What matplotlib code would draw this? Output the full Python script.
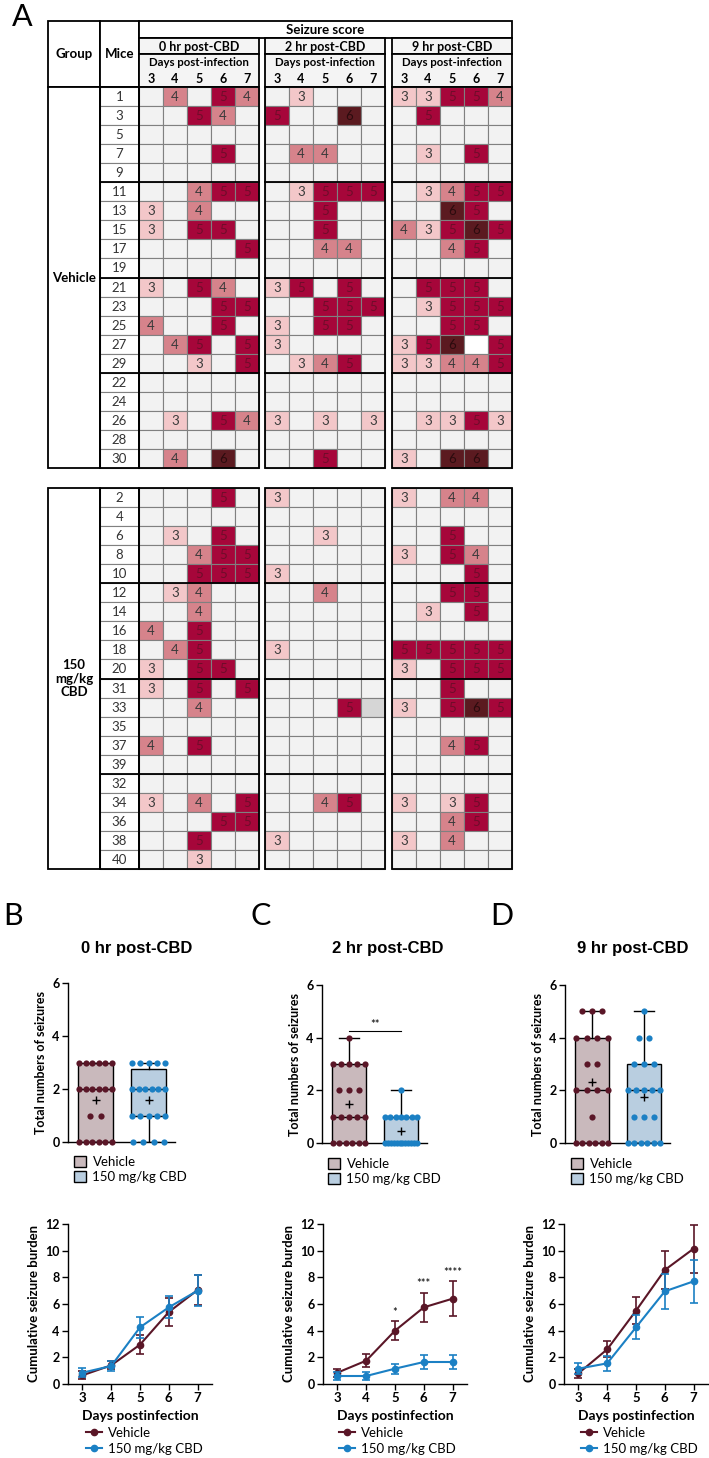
import numpy as np
import matplotlib
matplotlib.use('Agg')
import matplotlib.pyplot as plt
from matplotlib.patches import Rectangle, Patch
from matplotlib.lines import Line2D

plt.rcParams['font.family'] = ['Lato', 'DejaVu Sans']

# ---------------- data ----------------
days = [3, 4, 5, 6, 7]
veh_mice = [1, 3, 5, 7, 9, 11, 13, 15, 17, 19, 21, 23, 25, 27, 29, 22, 24, 26, 28, 30]
cbd_mice = [2, 4, 6, 8, 10, 12, 14, 16, 18, 20, 31, 33, 35, 37, 39, 32, 34, 36, 38, 40]
time_labels = ['0 hr post-CBD', '2 hr post-CBD', '9 hr post-CBD']

# seizure scores per mouse (days 3..7); 0 = none, -1 = not recorded, -2 = blank
veh_0hr = [[0,4,0,5,4],[0,0,5,4,0],[0,0,0,0,0],[0,0,0,5,0],[0,0,0,0,0],
           [0,0,4,5,5],[3,0,4,0,0],[3,0,5,5,0],[0,0,0,0,5],[0,0,0,0,0],
           [3,0,5,4,0],[0,0,0,5,5],[4,0,0,5,0],[0,4,5,0,5],[0,0,3,0,5],
           [0,0,0,0,0],[0,0,0,0,0],[0,3,0,5,4],[0,0,0,0,0],[0,4,0,6,0]]
veh_2hr = [[0,3,0,0,0],[5,0,0,6,0],[0,0,0,0,0],[0,4,4,0,0],[0,0,0,0,0],
           [0,3,5,5,5],[0,0,5,0,0],[0,0,5,0,0],[0,0,4,4,0],[0,0,0,0,0],
           [3,5,0,5,0],[0,0,5,5,5],[3,0,5,5,0],[3,0,0,0,0],[0,3,4,5,0],
           [0,0,0,0,0],[0,0,0,0,0],[3,0,3,0,3],[0,0,0,0,0],[0,0,5,0,0]]
veh_9hr = [[3,3,5,5,4],[0,5,0,0,0],[0,0,0,0,0],[0,3,0,5,0],[0,0,0,0,0],
           [0,3,4,5,5],[0,0,6,5,0],[4,3,5,6,5],[0,0,4,5,0],[0,0,0,0,0],
           [0,5,5,5,0],[0,3,5,5,5],[0,0,5,5,0],[3,5,6,-2,5],[3,3,4,4,5],
           [0,0,0,0,0],[0,0,0,0,0],[0,3,3,5,3],[0,0,0,0,0],[3,0,6,6,0]]
cbd_0hr = [[0,0,0,5,0],[0,0,0,0,0],[0,3,0,5,0],[0,0,4,5,5],[0,0,5,5,5],
           [0,3,4,0,0],[0,0,4,0,0],[4,0,5,0,0],[0,4,5,0,0],[3,0,5,5,0],
           [3,0,5,0,5],[0,0,4,0,0],[0,0,0,0,0],[4,0,5,0,0],[0,0,0,0,0],
           [0,0,0,0,0],[3,0,4,0,5],[0,0,0,5,5],[0,0,5,0,0],[0,0,3,0,0]]
cbd_2hr = [[3,0,0,0,0],[0,0,0,0,0],[0,0,3,0,0],[0,0,0,0,0],[3,0,0,0,0],
           [0,0,4,0,0],[0,0,0,0,0],[0,0,0,0,0],[3,0,0,0,0],[0,0,0,0,0],
           [0,0,0,0,0],[0,0,0,5,-1],[0,0,0,0,0],[0,0,0,0,0],[0,0,0,0,0],
           [0,0,0,0,0],[0,0,4,5,0],[0,0,0,0,0],[3,0,0,0,0],[0,0,0,0,0]]
cbd_9hr = [[3,0,4,4,0],[0,0,0,0,0],[0,0,5,0,0],[3,0,5,4,0],[0,0,0,5,0],
           [0,0,5,5,0],[0,3,0,5,0],[0,0,0,0,0],[5,5,5,5,5],[3,0,5,5,5],
           [0,0,5,0,0],[3,0,5,6,5],[0,0,0,0,0],[0,0,4,5,0],[0,0,0,0,0],
           [0,0,0,0,0],[3,0,3,5,0],[0,0,4,5,0],[3,0,4,0,0],[0,0,0,0,0]]

# total numbers of seizures per mouse (box plots)
tot_veh_0 = [3,2,0,1,0,3,2,3,1,0,3,2,2,3,2,0,0,3,0,2]
tot_cbd_0 = [1,0,2,3,3,2,1,2,2,3,3,1,0,2,0,0,3,2,1,1]
tot_veh_2 = [1,2,0,2,0,4,1,1,2,0,3,3,3,1,3,0,0,3,0,1]
tot_cbd_2 = [1,0,1,0,1,1,0,0,1,0,0,1,0,0,0,0,2,0,1,0]
tot_veh_9 = [5,1,0,2,0,4,2,5,2,0,3,4,2,4,5,0,0,4,0,3]
tot_cbd_9 = [3,0,1,3,1,2,2,0,5,4,1,4,0,2,0,0,3,2,2,0]

# cumulative seizure burden, mean and SEM
cum_veh_0 = [0.65, 1.40, 2.95, 5.40, 7.05]
sem_veh_0 = [0.30, 0.30, 0.70, 1.05, 1.15]
cum_cbd_0 = [0.85, 1.35, 4.25, 5.75, 7.00]
sem_cbd_0 = [0.35, 0.40, 0.78, 0.82, 1.15]
cum_veh_2 = [0.85, 1.75, 4.00, 5.75, 6.40]
sem_veh_2 = [0.30, 0.50, 0.70, 1.10, 1.30]
cum_cbd_2 = [0.60, 0.60, 1.15, 1.65, 1.65]
sem_cbd_2 = [0.30, 0.28, 0.38, 0.55, 0.55]
cum_veh_9 = [0.80, 2.60, 5.50, 8.55, 10.15]
sem_veh_9 = [0.35, 0.60, 1.00, 1.45, 1.80]
cum_cbd_9 = [1.15, 1.55, 4.25, 6.95, 7.70]
sem_cbd_9 = [0.40, 0.55, 0.90, 1.30, 1.60]
stars_2hr = {5: '*', 6: '***', 7: '****'}

# ---------------- figure ----------------
W, H = 709, 1458
fig = plt.figure(figsize=(W / 100, H / 100), dpi=100)
ov = fig.add_axes([0, 0, 1, 1])
ov.set_xlim(0, W)
ov.set_ylim(H, 0)
ov.axis('off')


def fax(left, top, right, bottom):
    return fig.add_axes([left / W, 1 - bottom / H, (right - left) / W, (bottom - top) / H])


# ---------------- table (panel A) ----------------
cell_colors = {0: '#f2f2f2', 3: '#f3c7c9', 4: '#d6838b', 5: '#a6063a', 6: '#5b1a20',
               -1: '#d6d6d6', -2: '#ffffff'}
text_colors = {3: '#3a3a3a', 4: '#3a3a3a', 5: '#6e0d2a', 6: '#2b0b0e'}
GRID = '#808080'
HFS = 9.0    # header font size
CFS = 9.5    # cell font size
X_G, X_M, X_D = 48, 100, 139
panel_x = [139, 265, 392]
CW = 24
RH = 19.05
Y0, Y1, Y2, Y3 = 21, 38, 54, 87

ov.text(12, 3, 'A', fontsize=22, va='top', ha='left')

# header
ov.add_patch(Rectangle((X_G, Y0), X_M - X_G, Y3 - Y0, fc='white', ec='black', lw=1.3))
ov.add_patch(Rectangle((X_M, Y0), X_D - X_M, Y3 - Y0, fc='white', ec='black', lw=1.3))
ov.text((X_G + X_M) / 2, (Y0 + Y3) / 2, 'Group', ha='center', va='center', fontsize=HFS + 0.5, weight='bold')
ov.text((X_M + X_D) / 2, (Y0 + Y3) / 2, 'Mice', ha='center', va='center', fontsize=HFS + 0.5, weight='bold')
right_edge = panel_x[-1] + 5 * CW
ov.add_patch(Rectangle((X_D, Y0), right_edge - X_D, Y1 - Y0, fc='white', ec='black', lw=1.3))
ov.text((X_D + right_edge) / 2, (Y0 + Y1) / 2 + 0.5, 'Seizure score', ha='center', va='center',
        fontsize=HFS + 0.5, weight='bold')
for p, px in enumerate(panel_x):
    ov.add_patch(Rectangle((px, Y1), 5 * CW, Y2 - Y1, fc='#f4f4f4', ec='black', lw=1.3))
    ov.add_patch(Rectangle((px, Y2), 5 * CW, Y3 - Y2, fc='#f4f4f4', ec='black', lw=1.3))
    ov.text(px + 2.5 * CW, (Y1 + Y2) / 2 + 0.5, time_labels[p], ha='center', va='center',
            fontsize=HFS, weight='bold')
    ov.text(px + 2.5 * CW, Y2 + 8.5, 'Days post-infection', ha='center', va='center',
            fontsize=HFS - 0.8, weight='bold')
    for j, d in enumerate(days):
        ov.text(px + (j + 0.5) * CW, Y2 + 25, str(d), ha='center', va='center',
                fontsize=HFS, weight='bold')

blocks = [(Y3, veh_mice, [veh_0hr, veh_2hr, veh_9hr], 'Vehicle'),
          (488, cbd_mice, [cbd_0hr, cbd_2hr, cbd_9hr], '150\nmg/kg\nCBD')]
for ytop, mice, panels, gname in blocks:
    n = len(mice)
    ybot = ytop + n * RH
    ov.add_patch(Rectangle((X_G, ytop), X_M - X_G, n * RH, fc='white', ec='black', lw=1.3, zorder=3))
    ov.text((X_G + X_M) / 2, (ytop + ybot) / 2, gname, ha='center', va='center',
            fontsize=HFS + 0.5, weight='bold', linespacing=1.15, zorder=4)
    for i, m in enumerate(mice):
        y = ytop + i * RH
        ov.add_patch(Rectangle((X_M, y), X_D - X_M, RH, fc='white', ec=GRID, lw=0.8))
        ov.text((X_M + X_D) / 2, y + RH / 2 + 0.5, str(m), ha='center', va='center',
                fontsize=CFS, color='#333333')
    ov.add_patch(Rectangle((X_M, ytop), X_D - X_M, n * RH, fc='none', ec='black', lw=1.3, zorder=3))
    for k in range(5, n, 5):
        ov.plot([X_M, X_D], [ytop + k * RH] * 2, color='black', lw=1.3, zorder=3)
    for p, px in enumerate(panel_x):
        scores = panels[p]
        for i in range(n):
            y = ytop + i * RH
            for j in range(5):
                s = scores[i][j]
                ov.add_patch(Rectangle((px + j * CW, y), CW, RH, fc=cell_colors[s], ec=GRID, lw=0.8))
                if s >= 3:
                    ov.text(px + (j + 0.5) * CW, y + RH / 2 + 0.5, str(s), ha='center', va='center',
                            fontsize=CFS, color=text_colors[s])
        for k in range(5, n, 5):
            ov.plot([px, px + 5 * CW], [ytop + k * RH] * 2, color='black', lw=1.3, zorder=3)
        ov.add_patch(Rectangle((px, ytop), 5 * CW, n * RH, fc='none', ec='black', lw=1.3, zorder=3))

# ---------------- box plots ----------------
VEH_C, CBD_C = '#5a1627', '#1b80c4'
VEH_F, CBD_F = '#c9b9bc', '#b9cee0'
TL_FS = 9


def style_axes(ax):
    for s in ['top', 'right']:
        ax.spines[s].set_visible(False)
    for s in ['left', 'bottom']:
        ax.spines[s].set_linewidth(1.0)
    ax.tick_params(length=4, width=1.0, labelsize=TL_FS, pad=2)
    for lab in ax.get_xticklabels() + ax.get_yticklabels():
        lab.set_fontweight('bold')


def box_stats(vals):
    v = np.asarray(vals, float)
    q1, med, q3 = np.percentile(v, [25, 50, 75], method='weibull')
    return dict(med=med, q1=q1, q3=q3, whislo=v.min(), whishi=v.max(), mean=v.mean(), fliers=[])


def swarm_x(vals, center):
    vals = np.asarray(vals)
    xs = np.empty(len(vals))
    for v in np.unique(vals):
        idx = np.where(vals == v)[0]
        k = len(idx)
        sp = 0.2 if k < 2 else min(0.2, 0.62 / (k - 1))
        xs[idx] = center + (np.arange(k) - (k - 1) / 2) * sp
    return xs


box_sets = [(tot_veh_0, tot_cbd_0), (tot_veh_2, tot_cbd_2), (tot_veh_9, tot_cbd_9)]
box_pos = [(68, 983, 175, 1142), (322, 985, 427, 1143), (565, 985, 670, 1143)]
titles_x = [137, 388, 633]
letters = [('B', 3), ('C', 250), ('D', 490)]
box_leg = [(74, 1156), (328, 1158), (571, 1158)]

for b in range(3):
    ax = fax(*box_pos[b])
    veh, cbd = box_sets[b]
    bx = ax.bxp([box_stats(veh), box_stats(cbd)], positions=[1, 2], widths=0.65,
                patch_artist=True, showmeans=True, showfliers=False, capwidths=[0.4, 0.4],
                boxprops=dict(edgecolor='black', linewidth=1.0),
                medianprops=dict(color='black', linewidth=1.0),
                whiskerprops=dict(color='black', linewidth=1.0),
                capprops=dict(color='black', linewidth=1.0),
                meanprops=dict(marker='+', markeredgecolor='black', markersize=6, markeredgewidth=1.0))
    bx['boxes'][0].set_facecolor(VEH_F)
    bx['boxes'][1].set_facecolor(CBD_F)
    ax.scatter(swarm_x(veh, 1), veh, s=20, color=VEH_C, zorder=5, clip_on=False, linewidths=0)
    ax.scatter(swarm_x(cbd, 2), cbd, s=20, color=CBD_C, zorder=5, clip_on=False, linewidths=0)
    ax.set_xlim(0.48, 2.5)
    ax.set_ylim(0, 6)
    ax.set_yticks([0, 2, 4, 6])
    ax.set_xticks([])
    ax.set_ylabel('Total numbers of seizures', fontsize=9, weight='bold', labelpad=4)
    style_axes(ax)
    if b == 1:
        ax.plot([1, 2], [4.25, 4.25], color='black', lw=0.8)
        ax.text(1.5, 4.3, '**', ha='center', va='bottom', fontsize=8)
    ax.legend(handles=[Patch(facecolor=VEH_F, edgecolor='black', label='Vehicle'),
                       Patch(facecolor=CBD_F, edgecolor='black', label='150 mg/kg CBD')],
              loc='upper left', bbox_to_anchor=(box_leg[b][0] / W, 1 - box_leg[b][1] / H),
              bbox_transform=fig.transFigure, frameon=False, fontsize=9.5, borderpad=0,
              borderaxespad=0, handlelength=0.9, handleheight=0.9, handletextpad=0.5,
              labelspacing=0.2)
    ov.text(titles_x[b], 948, time_labels[b], ha='center', va='center', fontsize=12,
            weight='bold', family='Liberation Sans')
    ov.text(letters[b][1], 902, letters[b][0], ha='left', va='top', fontsize=22)

# ---------------- cumulative burden line plots ----------------
line_sets = [(cum_veh_0, sem_veh_0, cum_cbd_0, sem_cbd_0),
             (cum_veh_2, sem_veh_2, cum_cbd_2, sem_cbd_2),
             (cum_veh_9, sem_veh_9, cum_cbd_9, sem_cbd_9)]
line_pos = [(68, 1224, 212, 1384), (323, 1224, 467, 1384), (564, 1224, 708, 1384)]
line_leg = [(86, 1427), (339, 1427), (581, 1427)]

for b in range(3):
    ax = fax(*line_pos[b])
    mv, sv, mc, sc = line_sets[b]
    ax.errorbar(days, mv, yerr=sv, color=VEH_C, marker='o', ms=4.5, lw=1.5, elinewidth=1.2,
                capsize=3, capthick=1.2, clip_on=False, zorder=3)
    ax.errorbar(days, mc, yerr=sc, color=CBD_C, marker='o', ms=4.5, lw=1.5, elinewidth=1.2,
                capsize=3, capthick=1.2, clip_on=False, zorder=4)
    if b == 1:
        for d, st in stars_2hr.items():
            i = days.index(d)
            ax.text(d, mv[i] + sv[i] + 0.25, st, ha='center', va='bottom', fontsize=8)
    ax.set_xlim(2.5, 7.5)
    ax.set_ylim(0, 12)
    ax.set_yticks([0, 2, 4, 6, 8, 10, 12])
    ax.set_xticks(days)
    ax.set_ylabel('Cumulative seizure burden', fontsize=9.5, weight='bold', labelpad=4)
    ax.set_xlabel('Days postinfection', fontsize=10, weight='bold', labelpad=4)
    style_axes(ax)
    ax.tick_params(axis='x', labelsize=9.5)
    for lab in ax.get_xticklabels():
        lab.set_fontweight('bold')
    ax.legend(handles=[Line2D([], [], color=VEH_C, marker='o', ms=4.5, lw=1.5, label='Vehicle'),
                       Line2D([], [], color=CBD_C, marker='o', ms=4.5, lw=1.5, label='150 mg/kg CBD')],
              loc='upper left', bbox_to_anchor=(line_leg[b][0] / W, 1 - line_leg[b][1] / H),
              bbox_transform=fig.transFigure, frameon=False, fontsize=9.5, borderpad=0,
              borderaxespad=0, handlelength=1.2, handletextpad=0.5, labelspacing=0.3)

fig.savefig('out.png', dpi=100)
